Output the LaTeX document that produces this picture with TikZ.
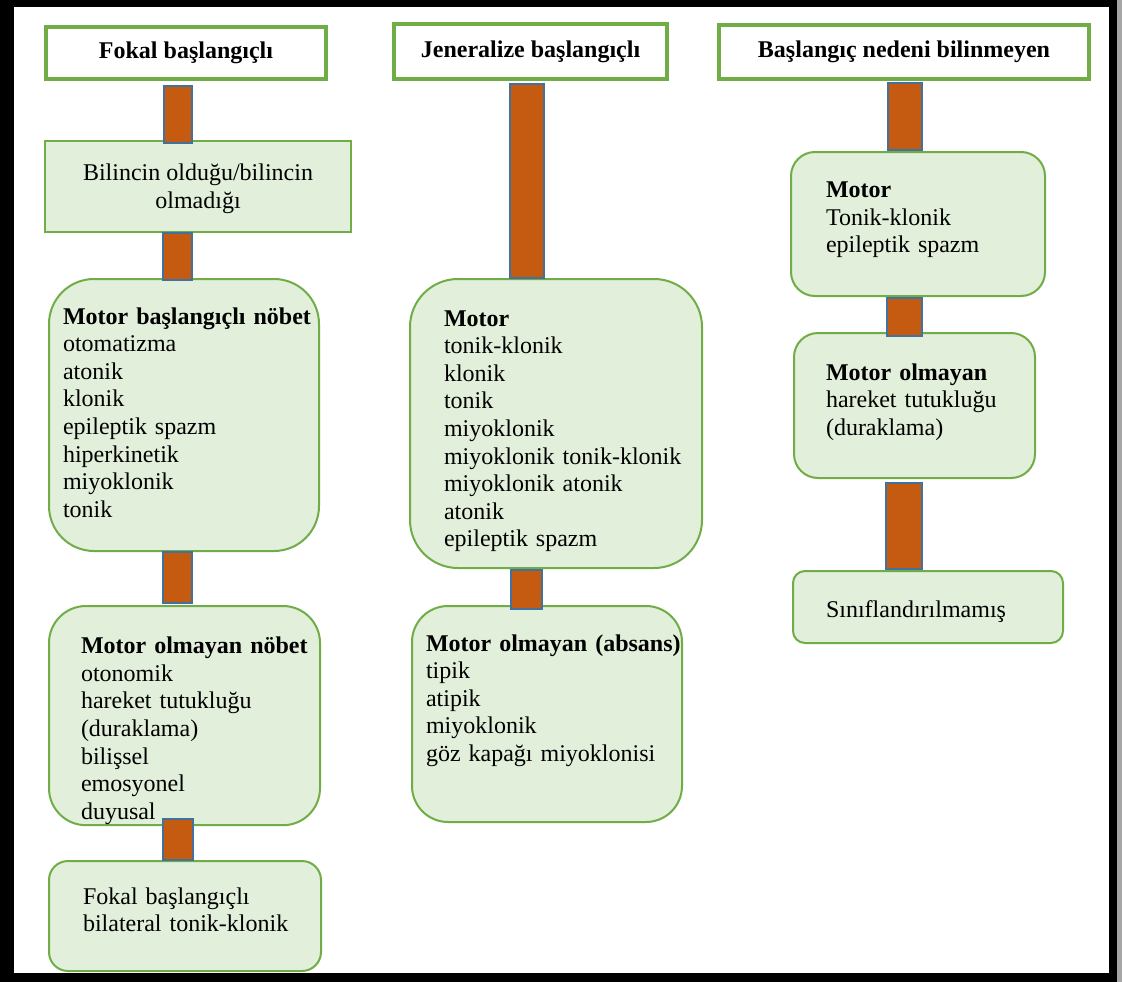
\documentclass[tikz,border=0pt]{standalone}
\usepackage{fontspec}
\setmainfont{Liberation Serif}
\definecolor{yesil}{HTML}{70AD47}
\definecolor{acikyesil}{HTML}{E2EFDA}
\definecolor{turuncu}{HTML}{C55A11}
\definecolor{mavi}{HTML}{41719C}
\newcommand{\ustpay}[1]{\rule{0pt}{#1}}
\newcommand{\altpay}[1]{\rule[-#1]{0pt}{0pt}}

\begin{document}
\begin{tikzpicture}[
    x=1pt, y=-1pt,
    every node/.style={font=\fontsize{24pt}{27.6pt}\selectfont, inner ysep=0pt, anchor=north west},
    baslik/.style={rectangle, draw=yesil, line width=4pt, fill=white, align=center},
    kutu/.style={rectangle, draw=yesil, line width=2pt, fill=acikyesil},
    liste/.style={kutu, align=left},
    cubuk/.style={draw=mavi, line width=1.5pt, fill=turuncu}
    ]

\useasboundingbox (0,0) rectangle (1122,982);
% frame
\fill[black!35] (1117,0) rectangle (1122,982);
\fill[black] (0,0) rectangle (1117,982);
\fill[white] (14,7) rectangle (1109,973);

%Fokal column
\node[baslik, minimum width=280pt, minimum height=52pt] (fh) at (44,25)
    {\ustpay{16pt}\textbf{Fokal başlangıçlı}\altpay{6pt}};
\node[kutu, align=center, minimum width=306pt, minimum height=91pt] (bil) at (44,140)
    {\ustpay{22pt}Bilincin olduğu/bilincin\\olmadığı\altpay{6pt}};
\node[liste, rounded corners=45pt, minimum width=270pt, minimum height=272pt,
    inner xsep=14pt, text width=242pt] (mb) at (48,278)
    {\ustpay{17.2pt}\mbox{\textbf{Motor başlangıçlı nöbet}}\\
     otomatizma\\ atonik\\ klonik\\ epileptik spazm\\ hiperkinetik\\
     miyoklonik\\ tonik\altpay{6pt}};
\node[liste, rounded corners=37pt, minimum width=271pt, minimum height=218pt,
    inner xsep=32pt, text width=207pt] (mon) at (48,605)
    {\ustpay{47.6pt}\mbox{\textbf{Motor olmayan nöbet}}\\
     otonomik\\ hareket tutukluğu\\ (duraklama)\\ bilişsel\\ emosyonel\\
     duyusal\altpay{6pt}};
\node[liste, rounded corners=19pt, minimum width=272pt, minimum height=110pt,
    inner xsep=34pt, text width=204pt] (fb) at (48,860)
    {\ustpay{17pt}Fokal başlangıçlı\\ \mbox{bilateral tonik-klonik}\altpay{13.4pt}};

%Jeneralize column
\node[baslik, minimum width=273pt, minimum height=55pt] (jh) at (392,22)
    {\ustpay{18pt}\textbf{Jeneralize başlangıçlı}\altpay{6pt}};
\node[liste, rounded corners=48pt, minimum width=292pt, minimum height=289pt,
    inner xsep=34pt, text width=224pt] (jm) at (409,278)
    {\ustpay{31.8pt}\textbf{Motor}\\
     tonik-klonik\\ klonik\\ tonik\\ miyoklonik\\ \mbox{miyoklonik tonik-klonik}\\
     miyoklonik atonik\\ atonik\\ epileptik spazm\altpay{6pt}};
\node[liste, rounded corners=36pt, minimum width=270pt, minimum height=216pt,
    inner xsep=14pt, text width=242pt] (ja) at (411,605)
    {\ustpay{17pt}\mbox{\textbf{Motor olmayan (absans)}}\\
     tipik\\ atipik\\ miyoklonik\\ göz kapağı miyoklonisi\altpay{32.6pt}};

%Baslangic nedeni bilinmeyen column
\node[baslik, minimum width=370pt, minimum height=54pt] (rh) at (717,23)
    {\ustpay{18pt}\textbf{Başlangıç nedeni bilinmeyen}\altpay{6pt}};
\node[liste, rounded corners=24pt, minimum width=254pt, minimum height=144pt,
    inner xsep=35pt, text width=184pt] (rm) at (790,151)
    {\ustpay{17pt}\textbf{Motor}\\ Tonik-klonik\\ epileptik spazm\altpay{14.4pt}};
\node[liste, rounded corners=24pt, minimum width=241pt, minimum height=145pt,
    inner xsep=32pt, text width=177pt] (ro) at (793,332)
    {\ustpay{17pt}\textbf{Motor olmayan}\\ hareket tutukluğu\\ (duraklama)\altpay{12.8pt}};
\node[liste, rounded corners=12pt, minimum width=270pt, minimum height=72pt,
    inner xsep=33pt, text width=204pt] (rs) at (792,570)
    {\ustpay{27.4pt}Sınıflandırılmamış\altpay{6pt}};

% bars between the boxes
\draw[cubuk] ([xshift=-22pt, yshift=-5pt]fh.south) rectangle ([xshift=-6pt, yshift=-3pt]bil.north);
\draw[cubuk] ([xshift=-35pt]bil.south) rectangle ([xshift=8pt, yshift=-2pt]mb.north);
\draw[cubuk] ([xshift=-21pt]mb.south) rectangle ([xshift=7.5pt, yshift=2pt]mon.north);
\draw[cubuk] ([xshift=-21.5pt, yshift=7pt]mon.south) rectangle ([xshift=8pt]fb.north);
\draw[cubuk] ([xshift=-20.5pt, yshift=-3pt]jh.south) rectangle ([xshift=-12pt]jm.north);
\draw[cubuk] ([xshift=-45pt, yshift=-1pt]jm.south) rectangle ([xshift=-5pt, yshift=-4pt]ja.north);
\draw[cubuk] ([xshift=-16pt, yshift=-2pt]rh.south) rectangle ([xshift=4pt, yshift=1pt]rm.north);
\draw[cubuk] ([xshift=-31pt, yshift=-1pt]rm.south) rectangle ([xshift=7.5pt, yshift=-4pt]ro.north);
\draw[cubuk] ([xshift=-28.5pt, yshift=-4pt]ro.south) rectangle ([xshift=-6pt, yshift=1pt]rs.north);
\end{tikzpicture}
\end{document}
